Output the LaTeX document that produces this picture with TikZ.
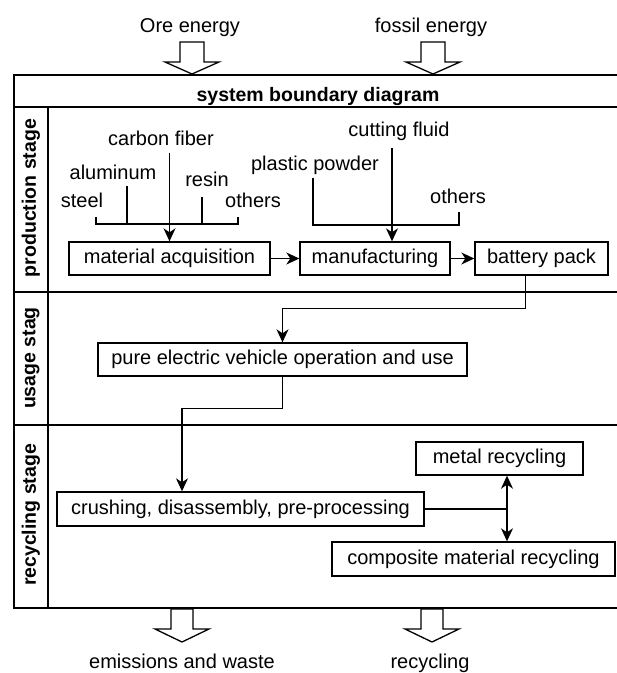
\documentclass[tikz,border=0pt]{standalone}
\usepackage{fontspec}
\setmainfont{Liberation Sans}
\usetikzlibrary{arrows.meta,calc}

\begin{document}
\begin{tikzpicture}[
			x=1pt, y=-1pt,
			every node/.style={font=\fontsize{20}{24}\selectfont},
			procbox/.style={draw, line width=1.4pt, minimum height=33pt, inner sep=0pt},
			lbl/.style={anchor=base, inner sep=0pt},
			stagelbl/.style={rotate=90, font=\fontsize{19.5}{23}\selectfont\bfseries},
			frame/.style={line width=1.8pt},
			link/.style={line width=1.4pt},
			flow/.style={link, -{Stealth[length=13pt,width=12pt,inset=4pt]}},
			bigarrow/.style={line width=1.3pt, line join=miter}
		]
		\useasboundingbox (0,0) rectangle (617,673);

		% frame of the system boundary
		\draw[frame] (618,75) -- (14,75) -- (14,608) -- (618,608);
		\draw[frame] (14,107) -- (618,107);
		\draw[frame] (14,292) -- (618,292);
		\draw[frame] (14,425) -- (618,425);
		\draw[frame] (48,107) -- (48,608);

		\node (title) at (318,101) [lbl, font=\fontsize{19.5}{23}\selectfont\bfseries] {system boundary diagram};

		\node (prodlbl) at (31,198) [stagelbl] {production stage};
		\node (uselbl) at (31,358) [stagelbl] {usage stag};
		\node (recylbl) at (31,515) [stagelbl] {recycling stage};

		% energy in, outputs out
		\node (oreen) at (190,32) [lbl] {Ore energy};
		\node (fossen) at (431,32) [lbl] {fossil energy};
		\coordinate (oretip) at (192,74);
		\coordinate (fosstip) at (433,74);
		\draw[bigarrow] (oretip) -- ++(27,-12) -- ++(-15,0) -- ++(0,-20) -- ++(-24,0) -- ++(0,20) -- ++(-15,0) -- cycle;
		\draw[bigarrow] (fosstip) -- ++(27,-12) -- ++(-15,0) -- ++(0,-20) -- ++(-24,0) -- ++(0,20) -- ++(-15,0) -- cycle;

		\node (emis) at (182,668) [lbl] {emissions and waste};
		\node (recy) at (430,668) [lbl] {recycling};
		\coordinate (emistip) at (182,642);
		\coordinate (recytip) at (432,642);
		\draw[bigarrow] (emistip) -- ++(27,-13) -- ++(-16,0) -- ++(0,-20) -- ++(-22,0) -- ++(0,20) -- ++(-16,0) -- cycle;
		\draw[bigarrow] (recytip) -- ++(27,-13) -- ++(-16,0) -- ++(0,-20) -- ++(-22,0) -- ++(0,20) -- ++(-16,0) -- cycle;

		% production stage
		\node (cfiber) at (161,145) [lbl] {carbon fiber};
		\node (alu) at (113,179) [lbl] {aluminum};
		\node (steel) at (82,207) [lbl] {steel};
		\node (resin) at (207,186) [lbl] {resin};
		\node (others) at (253,207) [lbl] {others};

		\node (fluid) at (399,136) [lbl] {cutting fluid};
		\node (powder) at (315,170) [lbl] {plastic powder};
		\node (othersb) at (458,203) [lbl] {others};

		\node (matacq) at (169.5,258.5) [procbox, minimum width=201pt] {material acquisition};
		\node (manuf) at (375,258.5) [procbox, minimum width=150pt] {manufacturing};
		\node (battery) at (541.5,258.5) [procbox, minimum width=133pt] {battery pack};

		\coordinate (steelend) at (96,217);
		\coordinate (aluend) at (127,186);
		\coordinate (resinend) at (202,197);
		\coordinate (othersend) at (238,217);
		\coordinate (cfend) at (169.5,153);
		\draw[link] (steelend) -- ++(0,7) -| (othersend);
		\draw[link] (aluend) -- ++(0,38);
		\draw[link] (resinend) -- ++(0,27);
		\draw[flow] (cfend) -- (matacq.north);

		\coordinate (powderend) at (313,178);
		\coordinate (othersbend) at (459,212);
		\coordinate (fluidend) at (392,148);
		\draw[link] (powderend) -- ++(0,47) -| (othersbend);
		\draw[flow] (fluidend) -- (fluidend |- manuf.north);

		\draw[flow] (matacq) -- (manuf);
		\draw[flow] (manuf) -- (battery);

		% usage stage
		\node (pev) at (282.5,359.5) [procbox, minimum width=369pt] {pure electric vehicle operation and use};
		\draw[flow] ([xshift=-16pt]battery.south) -- ++(0,33) -| (pev.north);

		% recycling stage
		\node (crush) at (240.5,509) [procbox, minimum width=367pt, minimum height=34pt] {crushing, disassembly, pre-processing};
		\node (metal) at (499.5,458.5) [procbox, minimum width=167pt] {metal recycling};
		\node (composite) at (473.5,559) [procbox, minimum width=283pt, minimum height=34pt] {composite material recycling};

		\draw[flow] (pev.south) -- ++(0,32) -| ([xshift=-58.5pt]crush.north);

		\coordinate (split) at (507,509);
		\draw[link] (crush.east) -- (split);
		\draw[flow] (split) -- (split |- metal.south);
		\draw[flow] (split) -- (split |- composite.north);

	\end{tikzpicture}
\end{document}
